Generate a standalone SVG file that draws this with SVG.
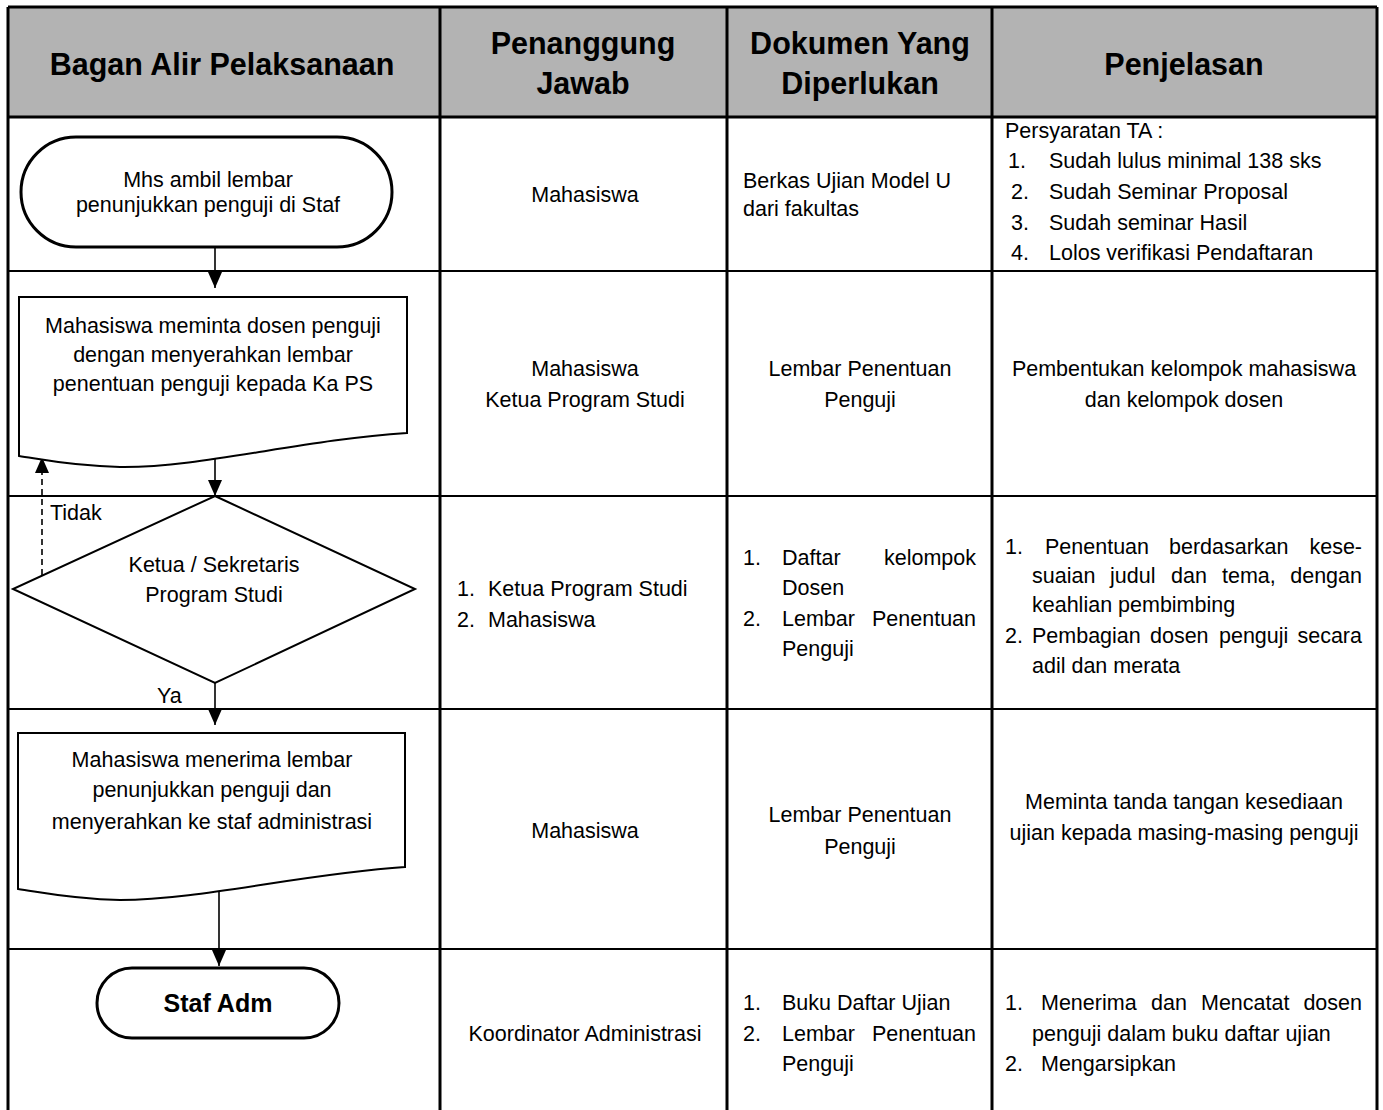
<svg xmlns="http://www.w3.org/2000/svg" width="1383" height="1110" viewBox="0 0 1383 1110">
<style>
text{font-family:"Liberation Sans",Arial,sans-serif;font-size:21.5px;fill:#000}
.c{text-anchor:middle}
.e{text-anchor:end}
.h{font-weight:bold;font-size:30.5px}
.grid{stroke:#000;stroke-width:2;fill:none}
.bold3{stroke:#000;stroke-width:3;fill:none}
.shape{stroke:#000;stroke-width:2;fill:#fff}
.term{stroke:#000;stroke-width:3;fill:#fff}
.conn{stroke:#000;stroke-width:1.6;fill:none}
</style>
<defs>
<marker id="ah" viewBox="0 0 16 14" refX="16" refY="7" markerWidth="16" markerHeight="14" markerUnits="userSpaceOnUse" orient="auto">
<path d="M0,0 L16,7 L0,14 z" fill="#000"/>
</marker>
</defs>
<rect width="1383" height="1110" fill="#fff"/>

<g id="table">
<rect x="8" y="7" width="1369" height="110" fill="#b3b3b3"/>
<path class="bold3" d="M8,7 H1377 M8,117 H1377 M8,7 V1110 M1377,7 V1110 M440,7 V1110 M727,7 V1110 M992,7 V1110"/>
<path class="grid" d="M8,271 H1377 M8,496 H1377 M8,709 H1377 M8,949 H1377"/>
</g>

<g id="header">
<text class="h c" x="222" y="75">Bagan Alir Pelaksanaan</text>
<text class="h c" x="583" y="54">Penanggung</text>
<text class="h c" x="583" y="94">Jawab</text>
<text class="h c" x="860" y="54">Dokumen Yang</text>
<text class="h c" x="860" y="94">Diperlukan</text>
<text class="h c" x="1184" y="75">Penjelasan</text>
</g>

<g id="connectors">
<path class="conn" d="M215,247 V288" marker-end="url(#ah)"/>
<path class="conn" d="M215,457 V496" marker-end="url(#ah)"/>
<path class="conn" d="M215,683 V725" marker-end="url(#ah)"/>
<path class="conn" d="M219,887 V966" marker-end="url(#ah)"/>
<path class="conn" d="M42,575 V457" stroke-dasharray="6,4" marker-end="url(#ah)"/>
<text x="50" y="520">Tidak</text>
<text x="157" y="703">Ya</text>
</g>

<g id="n1">
<rect class="term" x="21" y="137" width="371" height="110" rx="55" ry="55"/>
<text class="c" x="208" y="187">Mhs ambil lembar</text>
<text class="c" x="208" y="212">penunjukkan penguji di Staf</text>
</g>

<g id="n2">
<path class="shape" d="M19,297 H407 V433 C300,440 200,468 120,467 C70,466 40,459 19,456 Z"/>
<text class="c" x="213" y="333">Mahasiswa meminta dosen penguji</text>
<text class="c" x="213" y="362">dengan menyerahkan lembar</text>
<text class="c" x="213" y="391">penentuan penguji kepada Ka PS</text>
</g>

<g id="n3">
<path class="shape" d="M215,496 L415,589 L215,683 L13,589 Z"/>
<text class="c" x="214" y="572">Ketua / Sekretaris</text>
<text class="c" x="214" y="602">Program Studi</text>
</g>

<g id="n4">
<path class="shape" d="M18,733 H405 V867 C300,874 200,900 120,900 C70,899 40,892 18,889 Z"/>
<text class="c" x="212" y="767">Mahasiswa menerima lembar</text>
<text class="c" x="212" y="797">penunjukkan penguji dan</text>
<text class="c" x="212" y="829">menyerahkan ke staf administrasi</text>
</g>

<g id="n5">
<rect class="term" x="97" y="968" width="242" height="70" rx="35" ry="35"/>
<text class="c" x="218" y="1012" style="font-weight:bold;font-size:25px">Staf Adm</text>
</g>

<g id="row1">
<text class="c" x="585" y="202">Mahasiswa</text>
<text x="743" y="188">Berkas Ujian Model U</text>
<text x="743" y="216">dari fakultas</text>
<text x="1005" y="138">Persyaratan TA :</text>
<text x="1008" y="168">1.</text><text x="1049" y="168">Sudah lulus minimal 138 sks</text>
<text x="1011" y="199">2.</text><text x="1049" y="199">Sudah Seminar Proposal</text>
<text x="1011" y="230">3.</text><text x="1049" y="230">Sudah seminar Hasil</text>
<text x="1011" y="260">4.</text><text x="1049" y="260">Lolos verifikasi Pendaftaran</text>
</g>

<g id="row2">
<text class="c" x="585" y="376">Mahasiswa</text>
<text class="c" x="585" y="407">Ketua Program Studi</text>
<text class="c" x="860" y="376">Lembar Penentuan</text>
<text class="c" x="860" y="407">Penguji</text>
<text class="c" x="1184" y="376">Pembentukan kelompok mahasiswa</text>
<text class="c" x="1184" y="407">dan kelompok dosen</text>
</g>

<g id="row3">
<text x="457" y="596">1.</text><text x="488" y="596">Ketua Program Studi</text>
<text x="457" y="627">2.</text><text x="488" y="627">Mahasiswa</text>
<text x="743" y="565">1.</text><text x="782" y="565">Daftar</text><text class="e" x="976" y="565">kelompok</text>
<text x="782" y="595">Dosen</text>
<text x="743" y="626">2.</text><text x="782" y="626">Lembar</text><text class="e" x="976" y="626">Penentuan</text>
<text x="782" y="656">Penguji</text>
<text x="1005" y="554">1.</text><text x="1045" y="554">Penentuan</text><text x="1169" y="554">berdasarkan</text><text class="e" x="1362" y="554">kese-</text>
<text x="1032" y="583">suaian</text><text x="1110" y="583">judul</text><text x="1171" y="583">dan</text><text x="1222" y="583">tema,</text><text class="e" x="1362" y="583">dengan</text>
<text x="1032" y="612">keahlian pembimbing</text>
<text x="1005" y="643">2.</text><text x="1032" y="643">Pembagian</text><text x="1150" y="643">dosen</text><text x="1219" y="643">penguji</text><text class="e" x="1362" y="643">secara</text>
<text x="1032" y="673">adil dan merata</text>
</g>

<g id="row4">
<text class="c" x="585" y="838">Mahasiswa</text>
<text class="c" x="860" y="822">Lembar Penentuan</text>
<text class="c" x="860" y="854">Penguji</text>
<text class="c" x="1184" y="809">Meminta tanda tangan kesediaan</text>
<text class="c" x="1184" y="840">ujian kepada masing-masing penguji</text>
</g>

<g id="row5">
<text class="c" x="585" y="1041">Koordinator Administrasi</text>
<text x="743" y="1010">1.</text><text x="782" y="1010">Buku Daftar Ujian</text>
<text x="743" y="1041">2.</text><text x="782" y="1041">Lembar</text><text class="e" x="976" y="1041">Penentuan</text>
<text x="782" y="1071">Penguji</text>
<text x="1005" y="1010">1.</text><text x="1041" y="1010">Menerima</text><text x="1151" y="1010">dan</text><text x="1201" y="1010">Mencatat</text><text class="e" x="1362" y="1010">dosen</text>
<text x="1032" y="1041">penguji dalam buku daftar ujian</text>
<text x="1005" y="1071">2.</text><text x="1041" y="1071">Mengarsipkan</text>
</g>
</svg>
